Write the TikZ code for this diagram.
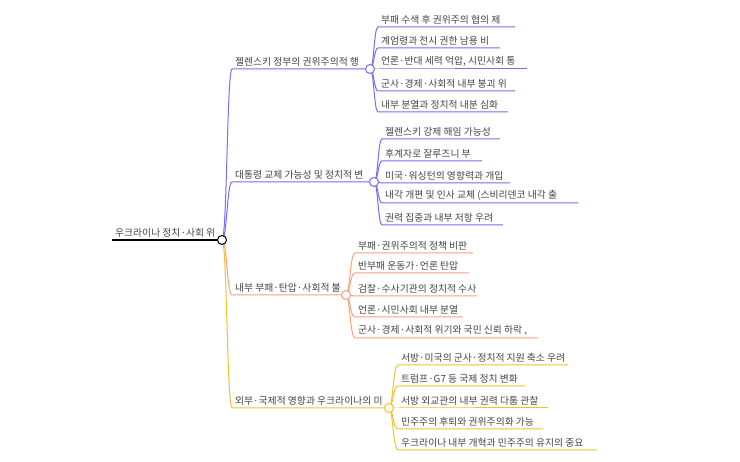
\documentclass[tikz,border=0pt]{standalone}
\usepackage{fontspec}
\usepackage{tikz}
\usetikzlibrary{positioning}
\newfontfamily\cjk{Noto Sans CJK KR}
\definecolor{txt}{HTML}{444444}
\definecolor{violet}{HTML}{7B6CF0}
\definecolor{orng}{HTML}{F7A27A}
\definecolor{gold}{HTML}{F5C02E}
\tikzset{
  leaf/.style={anchor=south west, inner xsep=3pt, inner ysep=2.5pt, text=txt, font=\cjk\fontsize{9.8}{11}\selectfont},
  knob/.style={circle, draw, fill=white, inner sep=0pt, minimum size=9pt, line width=1pt},
  br/.style={line width=1pt}
}
\begin{document}
\begin{tikzpicture}[x=1pt, y=-1pt]
  \useasboundingbox (0,0) rectangle (740,462);

  % root
  \node[leaf] (root) at (112,240) {우크라이나 정치·사회 위};
  \coordinate (rootEnd) at (222,240);

  % main branches
  \node[leaf] (b1) at (232,69)  {젤렌스키 정부의 권위주의적 행};
  \node[leaf] (b2) at (232,182) {대통령 교체 가능성 및 정치적 변};
  \node[leaf] (b3) at (232,295) {내부 부패·탄압·사회적 불};
  \node[leaf] (b4) at (232,408) {외부·국제적 영향과 우크라이나의 미};
  \coordinate (k1) at (370,69);
  \coordinate (k2) at (374,182);
  \coordinate (k3) at (346,295);
  \coordinate (k4) at (389,408);

  % leaves of b1
  \node[leaf] (l11) at (378,27)  {부패 수색 후 권위주의 협의 제};
  \node[leaf] (l12) at (378,48)  {계엄령과 전시 권한 남용 비};
  \node[leaf] (l13) at (378,69)  {언론·반대 세력 억압, 시민사회 통};
  \node[leaf] (l14) at (378,91)  {군사·경제·사회적 내부 붕괴 위};
  \node[leaf] (l15) at (378,112) {내부 분열과 정치적 내분 심화};

  % leaves of b2
  \node[leaf] (l21) at (382,139) {젤렌스키 강제 해임 가능성};
  \node[leaf] (l22) at (382,161) {후계자로 잘루즈니 부};
  \node[leaf] (l23) at (382,183) {미국·워싱턴의 영향력과 개입};
  \node[leaf] (l24) at (382,203) {내각 개편 및 인사 교체 (스비리덴코 내각 출};
  \node[leaf] (l25) at (382,225) {권력 집중과 내부 저항 우려};

  % leaves of b3
  \node[leaf] (l31) at (355,253) {부패·권위주의적 정책 비판};
  \node[leaf] (l32) at (355,273) {반부패 운동가·언론 탄압};
  \node[leaf] (l33) at (355,296) {검찰·수사기관의 정치적 수사};
  \node[leaf] (l34) at (355,317) {언론·시민사회 내부 분열};
  \node[leaf] (l35) at (355,338) {군사·경제·사회적 위기와 국민 신뢰 하락 ,};

  % leaves of b4
  \node[leaf] (l41) at (398,365) {서방·미국의 군사·정치적 지원 축소 우려};
  \node[leaf] (l42) at (398,386) {트럼프·G7 등 국제 정치 변화};
  \node[leaf] (l43) at (398,408) {서방 외교관의 내부 권력 다툼 관찰};
  \node[leaf] (l44) at (398,429) {민주주의 후퇴와 권위주의화 가능};
  \node[leaf] (l45) at (398,450) {우크라이나 내부 개혁과 민주주의 유지의 중요};

  % connectors from root
  \draw[br, violet] (rootEnd) .. controls (227,240) and (227,69) .. (b1.south west) -- (k1);
  \draw[br, violet] (rootEnd) .. controls (227,240) and (227,182) .. (b2.south west) -- (k2);
  \draw[br, orng] (rootEnd) .. controls (227,240) and (227,295) .. (b3.south west) -- (k3);
  \draw[br, gold] (rootEnd) .. controls (227,240) and (227,408) .. (b4.south west) -- (k4);

  % connectors from b1
  \draw[br, violet] (k1) .. controls (374,69) and (374,27) .. (l11.south west) -- ++(137,0);
  \draw[br, violet] (k1) .. controls (374,69) and (374,48) .. (l12.south west) -- ++(122,0);
  \draw[br, violet] (k1) -- (l13.south west) -- ++(149,0);
  \draw[br, violet] (k1) .. controls (374,69) and (374,91) .. (l14.south west) -- ++(137,0);
  \draw[br, violet] (k1) .. controls (374,69) and (374,112) .. (l15.south west) -- ++(130,0);

  % connectors from b2
  \draw[br, violet] (k2) .. controls (378,182) and (378,139) .. (l21.south west) -- ++(118,0);
  \draw[br, violet] (k2) .. controls (378,182) and (378,161) .. (l22.south west) -- ++(100,0);
  \draw[br, violet] (k2) .. controls (378,182) and (378,183) .. (l23.south west) -- ++(128,0);
  \draw[br, violet] (k2) .. controls (378,182) and (378,203) .. (l24.south west) -- ++(196,0);
  \draw[br, violet] (k2) .. controls (378,182) and (378,225) .. (l25.south west) -- ++(121,0);

  % connectors from b3
  \draw[br, orng] (k3) .. controls (350,295) and (350,253) .. (l31.south west) -- ++(118,0);
  \draw[br, orng] (k3) .. controls (350,295) and (350,273) .. (l32.south west) -- ++(114,0);
  \draw[br, orng] (k3) -- (l33.south west) -- ++(122,0);
  \draw[br, orng] (k3) .. controls (350,295) and (350,317) .. (l34.south west) -- ++(108,0);
  \draw[br, orng] (k3) .. controls (350,295) and (350,338) .. (l35.south west) -- ++(183,0);

  % connectors from b4
  \draw[br, gold] (k4) .. controls (393,408) and (393,365) .. (l41.south west) -- ++(170,0);
  \draw[br, gold] (k4) .. controls (393,408) and (393,386) .. (l42.south west) -- ++(127,0);
  \draw[br, gold] (k4) -- (l43.south west) -- ++(150,0);
  \draw[br, gold] (k4) .. controls (393,408) and (393,429) .. (l44.south west) -- ++(145,0);
  \draw[br, gold] (k4) .. controls (393,408) and (393,450) .. (l45.south west) -- ++(199,0);

  % root line and knobs
  \draw[line width=2pt] (root.south west) -- (rootEnd);
  \node[knob, draw=black] at (rootEnd) {};
  \node[knob, draw=violet] at (k1) {};
  \node[knob, draw=violet] at (k2) {};
  \node[knob, draw=orng] at (k3) {};
  \node[knob, draw=gold] at (k4) {};
\end{tikzpicture}
\end{document}
